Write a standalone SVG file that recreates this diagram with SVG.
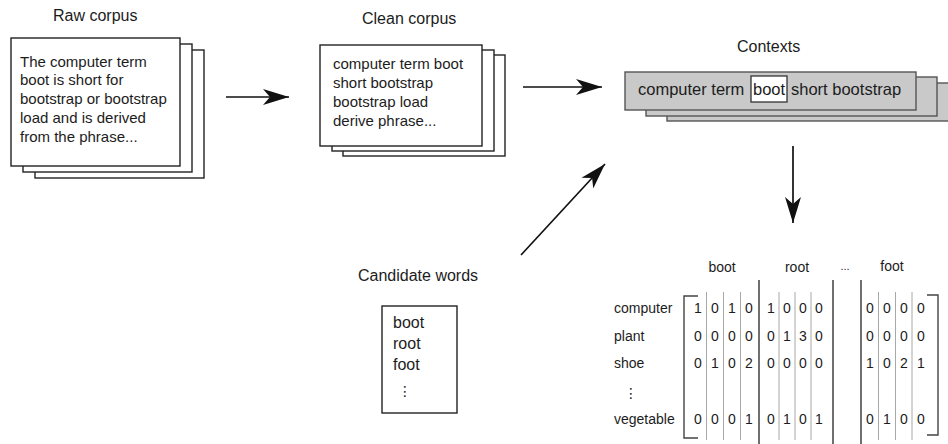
<svg xmlns="http://www.w3.org/2000/svg" width="948" height="444" viewBox="0 0 948 444">
  <style>
    text { font-family: "Liberation Sans", Arial, "DejaVu Sans", sans-serif; fill: #1c1c1c; }
    .title { font-size: 16px; }
    .body { font-size: 15px; }
    .ctx { font-size: 16.5px; }
    .cand { font-size: 16px; }
    .mx { font-size: 14px; }
    .dig { font-size: 14px; text-anchor: middle; }
    .sheet { fill: #ffffff; stroke: #222222; stroke-width: 1.4; }
    .gsheet { fill: #c9c9c9; stroke: #555555; stroke-width: 1.4; }
    .hl { fill: #ffffff; stroke: #333333; stroke-width: 1.3; }
    .conn { stroke: #111111; stroke-width: 1.7; fill: none; }
    .bar { stroke: #333333; stroke-width: 1.4; }
    .sep { stroke: #a8a8a8; stroke-width: 1; }
    .brk { fill: none; stroke: #444444; stroke-width: 1.4; }
  </style>
  <defs>
    <marker id="head" viewBox="-27 -9 28 18" refX="0" refY="0" markerWidth="28" markerHeight="18" markerUnits="userSpaceOnUse" orient="auto">
      <path d="M0,0 L-26,-8 L-19,0 L-26,8 Z" fill="#111111"/>
    </marker>
  </defs>

  <rect width="948" height="444" fill="#ffffff"/>

  <!-- raw corpus: stack of documents -->
  <g id="raw-corpus">
    <text class="title" x="53" y="21">Raw corpus</text>
    <rect class="sheet" x="35" y="50" width="169" height="128"/>
    <rect class="sheet" x="23" y="44" width="169" height="128"/>
    <rect class="sheet" x="11" y="38" width="169" height="128"/>
    <text class="body">
      <tspan x="20" y="66.5">The computer term</tspan>
      <tspan x="20" y="85.3">boot is short for</tspan>
      <tspan x="20" y="104">bootstrap or bootstrap</tspan>
      <tspan x="20" y="122.8">load and is derived</tspan>
      <tspan x="20" y="141.5">from the phrase...</tspan>
    </text>
  </g>

  <!-- clean corpus: stack of documents -->
  <g id="clean-corpus">
    <text class="title" x="362" y="24">Clean corpus</text>
    <rect class="sheet" x="343" y="55" width="162" height="101"/>
    <rect class="sheet" x="332" y="50" width="162" height="101"/>
    <rect class="sheet" x="320" y="45" width="162" height="101"/>
    <text class="body">
      <tspan x="333" y="69">computer term boot</tspan>
      <tspan x="333" y="88">short bootstrap</tspan>
      <tspan x="333" y="107">bootstrap load</tspan>
      <tspan x="333" y="126">derive phrase...</tspan>
    </text>
  </g>

  <!-- contexts: stack of grey context windows -->
  <g id="contexts">
    <text class="title" x="737" y="52">Contexts</text>
    <rect class="gsheet" x="667" y="83" width="292" height="38"/>
    <rect class="gsheet" x="646" y="77" width="291" height="39"/>
    <rect class="gsheet" x="625" y="72" width="291" height="38"/>
    <rect class="hl" x="751" y="76" width="36" height="26"/>
    <text class="ctx" y="95">
      <tspan x="638">computer term</tspan>
      <tspan x="753">boot</tspan>
      <tspan x="791">short bootstrap</tspan>
    </text>
  </g>

  <!-- candidate words list -->
  <g id="candidate-words">
    <text class="cand" x="358" y="281">Candidate words</text>
    <rect class="sheet" x="382" y="306" width="75" height="107"/>
    <text class="cand">
      <tspan x="393" y="328">boot</tspan>
      <tspan x="393" y="349">root</tspan>
      <tspan x="393" y="370">foot</tspan>
    </text>
    <text class="mx" x="398" y="396">⋮</text>
  </g>

  <!-- co-occurrence matrix -->
  <g id="matrix">
    <text class="dig" x="722" y="272">boot</text>
    <text class="dig" x="797" y="272">root</text>
    <text class="dig" x="845" y="270" style="font-size:11px">...</text>
    <text class="dig" x="892" y="271">foot</text>

    <text class="mx" x="614" y="313">computer</text>
    <text class="mx" x="614" y="341">plant</text>
    <text class="mx" x="614" y="368">shoe</text>
    <text class="mx" x="624" y="398">⋮</text>
    <text class="mx" x="614" y="424">vegetable</text>

    <!-- brackets -->
    <path class="brk" d="M698,296 H684 V438 H698"/>
    <path class="brk" d="M927,295 H938 V435 H927"/>

    <!-- block dividers -->
    <line class="bar" x1="759" y1="280" x2="759" y2="444"/>
    <line class="bar" x1="833" y1="280" x2="833" y2="444"/>
    <line class="bar" x1="861" y1="280" x2="861" y2="444"/>

    <!-- column separators -->
    <g class="sep">
      <line x1="706.5" y1="292" x2="706.5" y2="440"/>
      <line x1="723.5" y1="292" x2="723.5" y2="440"/>
      <line x1="740.5" y1="292" x2="740.5" y2="440"/>
      <line x1="779" y1="292" x2="779" y2="440"/>
      <line x1="795" y1="292" x2="795" y2="440"/>
      <line x1="811" y1="292" x2="811" y2="440"/>
      <line x1="878.5" y1="292" x2="878.5" y2="440"/>
      <line x1="895.5" y1="292" x2="895.5" y2="440"/>
      <line x1="912" y1="292" x2="912" y2="440"/>
    </g>

    <!-- counts -->
    <g class="dig">
      <text y="313"><tspan x="698">1</tspan><tspan x="715">0</tspan><tspan x="732">1</tspan><tspan x="749">0</tspan><tspan x="771">1</tspan><tspan x="787">0</tspan><tspan x="803">0</tspan><tspan x="819">0</tspan><tspan x="870">0</tspan><tspan x="887">0</tspan><tspan x="904">0</tspan><tspan x="921">0</tspan></text>
      <text y="341"><tspan x="698">0</tspan><tspan x="715">0</tspan><tspan x="732">0</tspan><tspan x="749">0</tspan><tspan x="771">0</tspan><tspan x="787">1</tspan><tspan x="803">3</tspan><tspan x="819">0</tspan><tspan x="870">0</tspan><tspan x="887">0</tspan><tspan x="904">0</tspan><tspan x="921">0</tspan></text>
      <text y="368"><tspan x="698">0</tspan><tspan x="715">1</tspan><tspan x="732">0</tspan><tspan x="749">2</tspan><tspan x="771">0</tspan><tspan x="787">0</tspan><tspan x="803">0</tspan><tspan x="819">0</tspan><tspan x="870">1</tspan><tspan x="887">0</tspan><tspan x="904">2</tspan><tspan x="921">1</tspan></text>
      <text y="424"><tspan x="698">0</tspan><tspan x="715">0</tspan><tspan x="732">0</tspan><tspan x="749">1</tspan><tspan x="771">0</tspan><tspan x="787">1</tspan><tspan x="803">0</tspan><tspan x="819">1</tspan><tspan x="870">0</tspan><tspan x="887">1</tspan><tspan x="904">0</tspan><tspan x="921">0</tspan></text>
    </g>
  </g>

  <!-- connectors -->
  <g id="connectors">
    <line class="conn" x1="226" y1="97" x2="289" y2="97" marker-end="url(#head)"/>
    <line class="conn" x1="523" y1="87" x2="602" y2="87" marker-end="url(#head)"/>
    <line class="conn" x1="521" y1="255" x2="605" y2="164" marker-end="url(#head)"/>
    <line class="conn" x1="793" y1="146" x2="793" y2="223" marker-end="url(#head)"/>
  </g>
</svg>
